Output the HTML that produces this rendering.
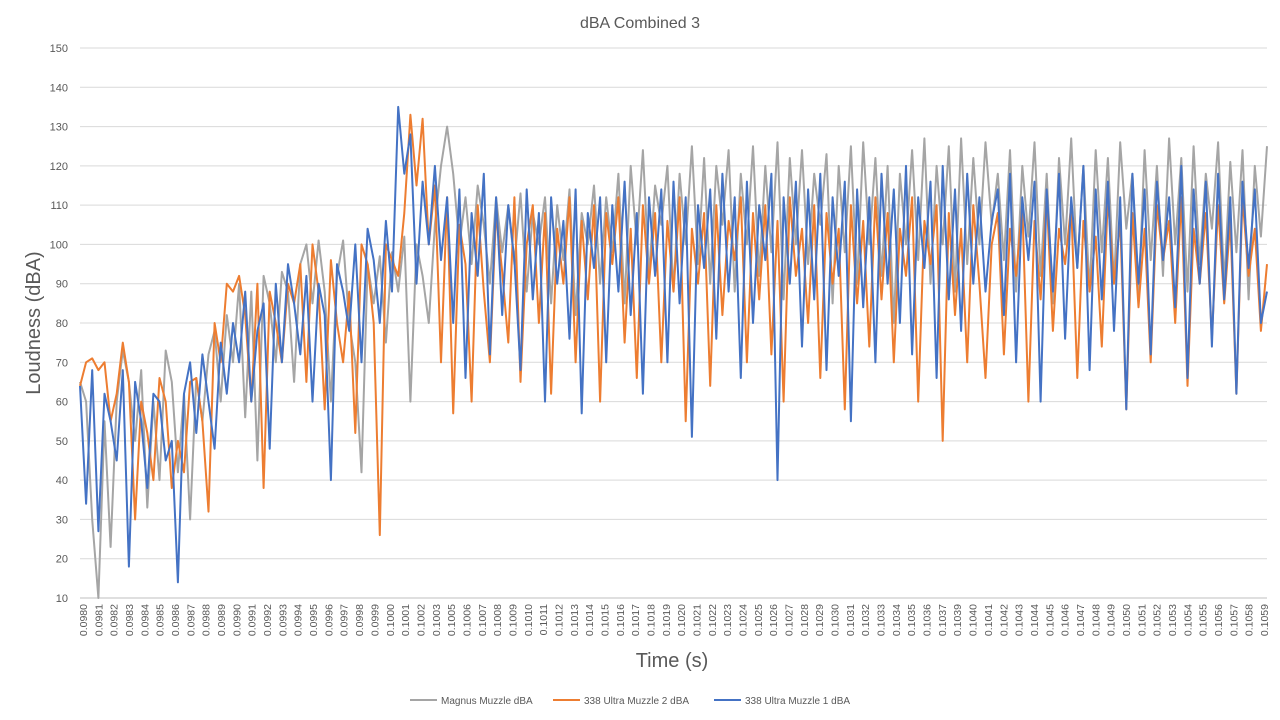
<!DOCTYPE html>
<html><head><meta charset="utf-8"><style>
body{margin:0;background:#fff;font-family:"Liberation Sans",sans-serif}
svg{display:block}
</style></head><body>
<svg id="chart" width="1280" height="720">
<rect width="1280" height="720" fill="#fff"/>
<text x="640" y="28" text-anchor="middle" font-size="16" fill="#595959">dBA Combined 3</text>
<text transform="translate(40,323) rotate(-90)" text-anchor="middle" font-size="20" fill="#595959">Loudness (dBA)</text>
<text x="672" y="667" text-anchor="middle" font-size="20" fill="#595959">Time (s)</text>
<g id="grid"></g>
<g id="yticks"></g>
<g id="xticks"></g>
<g id="series"></g>
<g>
<g><line x1="410" y1="700" x2="437" y2="700" stroke="#a5a5a5" stroke-width="2"/><text x="441" y="704" font-size="10" fill="#595959">Magnus Muzzle dBA</text></g>
<g><line x1="553" y1="700" x2="580" y2="700" stroke="#ed7d31" stroke-width="2"/><text x="584" y="704" font-size="10" fill="#595959">338 Ultra Muzzle 2 dBA</text></g>
<g><line x1="714" y1="700" x2="741" y2="700" stroke="#4472c4" stroke-width="2"/><text x="745" y="704" font-size="10" fill="#595959">338 Ultra Muzzle 1 dBA</text></g>
</g>
</svg>
<script>
const yTicks=[10,20,30,40,50,60,70,80,90,100,110,120,130,140,150];
const xLabels=["0.0980","0.0981","0.0982","0.0983","0.0984","0.0985","0.0986","0.0987","0.0988","0.0989","0.0990","0.0991","0.0992","0.0993","0.0994","0.0995","0.0996","0.0997","0.0998","0.0999","0.1000","0.1001","0.1002","0.1003","0.1005","0.1006","0.1007","0.1008","0.1009","0.1010","0.1011","0.1012","0.1013","0.1014","0.1015","0.1016","0.1017","0.1018","0.1019","0.1020","0.1021","0.1022","0.1023","0.1024","0.1025","0.1026","0.1027","0.1028","0.1029","0.1030","0.1031","0.1032","0.1033","0.1034","0.1035","0.1036","0.1037","0.1039","0.1040","0.1041","0.1042","0.1043","0.1044","0.1045","0.1046","0.1047","0.1048","0.1049","0.1050","0.1051","0.1052","0.1053","0.1054","0.1055","0.1056","0.1057","0.1058","0.1059"];
const magnus=[65,60,30,10,55,23,60,73,65,50,68,33,60,40,73,65,42,62,30,66,55,72,78,60,82,70,90,56,88,45,92,85,70,93,88,65,95,100,85,101,88,60,92,101,80,70,42,95,85,97,75,98,88,102,60,100,92,80,105,120,130,118,100,112,95,115,105,90,112,98,110,95,113,88,108,100,112,85,110,96,114,82,108,100,115,90,112,98,118,85,120,100,124,92,115,105,120,88,118,100,125,95,122,90,120,105,124,88,118,100,125,92,120,98,126,86,122,100,124,95,118,105,123,85,120,98,125,90,126,100,122,92,120,80,118,100,124,96,127,90,120,100,125,88,127,95,122,100,126,105,118,96,124,88,120,102,126,92,118,85,122,100,127,94,120,88,124,98,122,90,126,104,118,86,124,96,120,92,127,100,122,88,125,95,118,104,126,90,121,98,124,86,120,102,125];
const ultra2=[64,70,71,68,70,55,62,75,65,30,60,52,40,66,60,38,50,42,65,66,55,32,80,70,90,88,92,82,60,90,38,88,80,70,90,85,95,65,100,88,58,96,80,70,88,52,100,95,80,26,100,96,92,108,133,115,132,100,115,70,112,57,105,95,60,110,88,70,108,93,75,112,65,100,110,80,108,62,104,90,112,70,106,86,110,60,108,95,112,75,104,66,110,90,108,70,106,88,112,55,104,90,108,64,110,82,106,96,112,70,108,86,110,72,106,60,112,92,104,80,110,66,108,90,104,58,110,85,106,74,112,86,108,70,104,92,112,60,106,95,110,50,108,82,104,70,110,90,66,100,108,72,104,92,110,60,106,86,112,78,104,95,110,66,106,88,102,74,112,90,106,58,108,84,104,70,110,96,106,80,112,64,104,90,108,76,110,85,106,62,112,92,104,78,95];
const ultra1=[64,34,68,27,62,55,45,68,18,65,55,38,62,60,45,50,14,62,70,52,72,60,48,75,62,80,70,88,60,78,85,48,90,70,95,85,72,92,60,90,82,40,95,88,78,100,70,104,96,80,106,88,135,118,128,90,116,100,120,96,112,80,114,66,108,92,118,72,112,82,110,96,68,114,86,108,60,112,90,106,76,114,57,108,94,112,70,110,88,116,82,108,62,112,92,114,70,116,85,112,51,110,94,114,76,118,88,112,66,116,80,110,96,118,40,112,90,116,74,114,86,118,68,112,92,116,55,114,84,112,70,118,90,114,80,120,72,112,94,116,66,120,86,114,78,118,90,112,88,106,114,82,118,70,112,96,116,60,114,88,118,76,112,94,120,68,114,86,116,78,112,58,118,90,114,72,116,96,112,84,120,66,114,90,116,74,118,86,112,62,116,94,114,80,88];
const NS="http://www.w3.org/2000/svg";
const X0=80,X1=1267,Y0=598,Y1=48,VMIN=10,VMAX=150;
const yS=v=>Y0-(v-VMIN)/(VMAX-VMIN)*(Y0-Y1);
const xS=(i,n)=>X0+i/(n-1)*(X1-X0);
const grid=document.getElementById('grid'),yt=document.getElementById('yticks'),xt=document.getElementById('xticks'),ser=document.getElementById('series');
yTicks.forEach(v=>{
 const l=document.createElementNS(NS,'line');
 l.setAttribute('x1',X0);l.setAttribute('x2',X1);l.setAttribute('y1',yS(v));l.setAttribute('y2',yS(v));
 l.setAttribute('stroke',v===VMIN?'#bfbfbf':'#d9d9d9');l.setAttribute('stroke-width','1');
 
 
 grid.appendChild(l);
 const t=document.createElementNS(NS,'text');
 t.setAttribute('x',X0-12);t.setAttribute('y',yS(v)+4);t.setAttribute('text-anchor','end');
 t.setAttribute('font-size','11');t.setAttribute('fill','#595959');t.textContent=v;
 
 
 yt.appendChild(t);
});
xLabels.forEach((s,i)=>{
 const x=X0+3+i*(X1-X0-6)/(xLabels.length-1);
 const t=document.createElementNS(NS,'text');
 t.setAttribute('transform',`translate(${x+4},${Y0+6}) rotate(-90)`);
 t.setAttribute('text-anchor','end');t.setAttribute('font-size','10.5');t.setAttribute('fill','#595959');
 t.textContent=s;
 
 
 xt.appendChild(t);
});
[[magnus,'#a5a5a5','magnus-line'],[ultra2,'#ed7d31','ultra-2-line'],[ultra1,'#4472c4','ultra-1-line']].forEach(([d,c,n])=>{
 const p=document.createElementNS(NS,'polyline');
 p.setAttribute('points',d.map((v,i)=>xS(i,d.length).toFixed(1)+','+yS(v).toFixed(1)).join(' '));
 p.setAttribute('fill','none');p.setAttribute('stroke',c);p.setAttribute('stroke-width','2');p.setAttribute('stroke-linejoin','round');
 
 
 ser.appendChild(p);
});
</script>
</body></html>
